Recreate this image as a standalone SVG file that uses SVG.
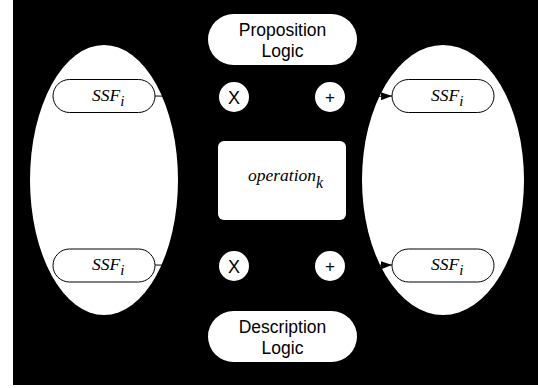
<svg xmlns="http://www.w3.org/2000/svg" width="538" height="388" viewBox="0 0 538 388">
<style>
.pill{fill:#fff;stroke:#000;stroke-width:1}
.sans{font-family:"Liberation Sans",Arial,sans-serif;font-size:17.5px;fill:#000;text-anchor:middle}
.sym{font-family:"Liberation Sans",Arial,sans-serif;fill:#000;text-anchor:middle}
.it{font-family:"Liberation Serif","Times New Roman",serif;font-style:italic;fill:#000}
.ln{stroke:#000;stroke-width:1;fill:none}
</style>
<defs>
<marker id="ah" markerWidth="11" markerHeight="8" refX="11" refY="4" orient="auto" markerUnits="userSpaceOnUse">
<path d="M0,0 L11,4 L0,8 Z" fill="#000"/>
</marker>
</defs>
<rect x="0" y="0" width="538" height="388" fill="#fff"/>
<rect x="13" y="0" width="525" height="385" fill="#000"/>
<g id="left-set"><ellipse cx="104" cy="180" rx="74" ry="135" fill="#fff"/></g>
<g id="right-set"><ellipse cx="443" cy="180" rx="81" ry="135" fill="#fff"/></g>
<g id="connectors">
<line class="ln" x1="155" y1="96" x2="218" y2="97"/>
<line class="ln" x1="155" y1="265" x2="218" y2="266"/>
<line class="ln" x1="345" y1="97" x2="392" y2="96" marker-end="url(#ah)"/>
<line class="ln" x1="345" y1="266" x2="392" y2="265" marker-end="url(#ah)"/>
</g>
<g id="proposition-logic">
<rect x="208" y="14" width="149" height="51" rx="25.5" fill="#fff"/>
<text class="sans" x="282.5" y="36">Proposition</text>
<text class="sans" x="282.5" y="57">Logic</text>
</g>
<g id="description-logic">
<rect x="208" y="311" width="149" height="51" rx="25.5" fill="#fff"/>
<text class="sans" x="282.5" y="333">Description</text>
<text class="sans" x="282.5" y="354">Logic</text>
</g>
<g id="operation">
<rect x="218" y="141" width="128" height="79" rx="6" fill="#fff"/>
<text class="it" x="248" y="181" font-size="17.5">operation<tspan font-size="16" dy="7">k</tspan></text>
</g>
<g id="x-top"><circle cx="234" cy="97" r="15" fill="#fff"/><text class="sym" x="234" y="103.5" font-size="18">X</text></g>
<g id="plus-top"><circle cx="330" cy="97" r="15" fill="#fff"/><text class="sym" x="330" y="103" font-size="17">+</text></g>
<g id="x-bottom"><circle cx="234" cy="266" r="15" fill="#fff"/><text class="sym" x="234" y="272.5" font-size="18">X</text></g>
<g id="plus-bottom"><circle cx="330" cy="266" r="15" fill="#fff"/><text class="sym" x="330" y="272" font-size="17">+</text></g>
<g id="ssf-left-top">
<rect class="pill" x="53" y="79.5" width="102" height="33" rx="16.5"/>
<text class="it" x="92" y="100.5" font-size="17.5">SSF<tspan font-size="15" dy="5">i</tspan></text>
</g>
<g id="ssf-left-bottom">
<rect class="pill" x="53" y="249" width="102" height="33" rx="16.5"/>
<text class="it" x="92" y="270" font-size="17.5">SSF<tspan font-size="15" dy="5">i</tspan></text>
</g>
<g id="ssf-right-top">
<rect class="pill" x="392" y="79.5" width="102" height="33" rx="16.5"/>
<text class="it" x="431" y="100.5" font-size="17.5">SSF<tspan font-size="15" dy="5">i</tspan></text>
</g>
<g id="ssf-right-bottom">
<rect class="pill" x="392" y="249" width="102" height="33" rx="16.5"/>
<text class="it" x="431" y="270" font-size="17.5">SSF<tspan font-size="15" dy="5">i</tspan></text>
</g>
</svg>
